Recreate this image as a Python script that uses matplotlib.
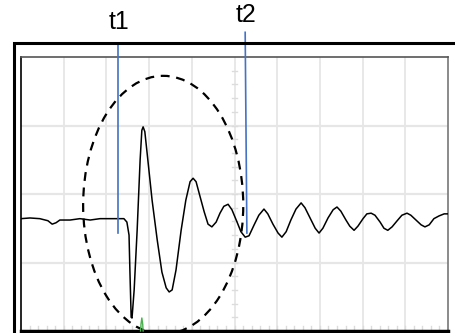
import matplotlib
matplotlib.use("Agg")
import matplotlib.pyplot as plt
from matplotlib.patches import Ellipse, Rectangle
from matplotlib.lines import Line2D

# waveform (time in divisions, amplitude in divisions)
t = [0.00,0.21,0.44,0.63,0.73,0.82,0.91,1.15,1.38,1.62,1.85,2.08,2.32,2.41,2.48,2.53,2.55,2.58,2.60,2.65,
     2.72,2.79,2.83,2.86,2.90,2.97,3.07,3.19,3.30,3.40,3.47,3.54,3.63,3.75,3.86,3.96,4.03,4.10,4.19,4.29,
     4.38,4.47,4.57,4.66,4.75,4.85,4.94,5.06,5.15,5.25,5.34,5.46,5.57,5.69,5.78,5.90,6.02,6.11,6.21,6.32,
     6.44,6.56,6.65,6.77,6.89,6.98,7.07,7.19,7.31,7.40,7.49,7.61,7.70,7.80,7.89,8.01,8.10,8.20,8.29,8.41,
     8.50,8.59,8.69,8.81,8.92,9.04,9.13,9.25,9.37,9.46,9.56,9.67,9.79,9.91,10.00]
v = [-0.36,-0.35,-0.36,-0.39,-0.44,-0.42,-0.38,-0.38,-0.36,-0.38,-0.36,-0.36,-0.36,-0.36,-0.41,-0.60,-1.11,-1.80,-1.81,-1.40,
     -0.53,0.50,0.93,0.98,0.91,0.50,-0.09,-0.67,-1.14,-1.37,-1.43,-1.40,-1.11,-0.53,-0.09,0.18,0.23,0.18,-0.03,-0.26,
     -0.44,-0.48,-0.41,-0.28,-0.18,-0.15,-0.23,-0.41,-0.55,-0.63,-0.61,-0.45,-0.31,-0.22,-0.29,-0.44,-0.57,-0.63,-0.55,-0.38,
     -0.22,-0.13,-0.20,-0.35,-0.50,-0.57,-0.50,-0.35,-0.23,-0.19,-0.25,-0.38,-0.47,-0.53,-0.47,-0.36,-0.29,-0.28,-0.31,-0.41,
     -0.50,-0.53,-0.48,-0.39,-0.31,-0.28,-0.31,-0.38,-0.45,-0.48,-0.45,-0.36,-0.32,-0.29,-0.29]

# cursor markers
cursor_labels = ["t1", "t2"]
cursor_top_x = [2.27, 5.25]
cursor_bot_x = [2.27, 5.29]
cursor_top_y = [2.20, 2.36]
cursor_bot_y = [-0.57, -0.57]
label_y = [2.51, 2.62]

# highlight ellipse (center x, center y, width, height)
ell_cx, ell_cy, ell_w, ell_h = 3.33, -0.16, 3.75, 3.77

# trigger marker
trig_x = [2.80, 2.81, 2.83, 2.85, 2.86]
trig_y = [-2.0, -1.9, -1.81, -1.9, -2.0]

fig = plt.figure(figsize=(4.55, 3.33), dpi=100)
fig.patch.set_facecolor("white")

# outer frame
fig.add_artist(Rectangle((14/455, -0.02), 1.0, (333-43)/333 + 0.02, transform=fig.transFigure,
                         fill=False, edgecolor="black", linewidth=2.2))

ax = fig.add_axes([21/455, 2/333, 427/455, 274/333])
ax.set_xlim(0, 10)
ax.set_ylim(-2, 2)
ax.set_xticks([])
ax.set_yticks([])

grid_c = "#e6e6e6"
for gx in range(1, 10):
    ax.axvline(gx, color=grid_c, lw=1.3, zorder=0)
for gy in [-1, 0, 1]:
    ax.axhline(gy, color=grid_c, lw=1.6, zorder=0)

# minor ticks on centre line and bottom
for i in range(-9, 10):
    yy = i * 0.2
    ax.plot([4.93, 5.07], [yy, yy], color="#dcdcdc", lw=1, zorder=0)
for i in range(1, 50):
    xx = i * 0.2
    ax.plot([xx, xx], [-2, -1.93], color="#dcdcdc", lw=1, zorder=0)

ax.spines["left"].set_color("black")
ax.spines["left"].set_linewidth(1.2)
ax.spines["top"].set_color("#555555")
ax.spines["top"].set_linewidth(1.2)
ax.spines["right"].set_color("#777777")
ax.spines["right"].set_linewidth(1.2)
ax.spines["bottom"].set_color("black")
ax.spines["bottom"].set_linewidth(2.5)

ax.plot(t, v, color="black", lw=1.1, zorder=3)

ax.add_patch(Ellipse((ell_cx, ell_cy), ell_w, ell_h, fill=False, edgecolor="black",
                     lw=1.6, linestyle=(0, (4, 3)), zorder=4))

ax.plot(trig_x, trig_y, color="#4caf50", lw=1.0, zorder=4, clip_on=False)

for lab, tx, bx, ty, by, ly in zip(cursor_labels, cursor_top_x, cursor_bot_x, cursor_top_y, cursor_bot_y, label_y):
    ax.add_line(Line2D([tx, bx], [ty, by], color="#4472c4", lw=1.2, clip_on=False, zorder=5))
    ax.text(tx + 0.03, ly, lab, ha="center", va="center", fontsize=18,
            family=["Liberation Sans", "DejaVu Sans"], clip_on=False)

fig.savefig("out.png", dpi=100)
